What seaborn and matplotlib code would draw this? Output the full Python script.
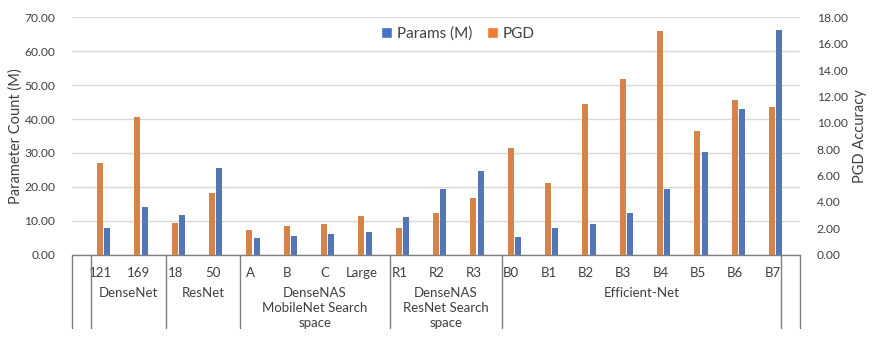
import numpy as np
import pandas as pd
import matplotlib
matplotlib.use('Agg')
import matplotlib.pyplot as plt
import matplotlib.transforms as mtransforms
from matplotlib.patches import Patch
import seaborn as sns

# ---- data ----
models = ['121', '169', '18', '50', 'A', 'B', 'C', 'Large', 'R1', 'R2', 'R3',
          'B0', 'B1', 'B2', 'B3', 'B4', 'B5', 'B6', 'B7']
params_m = [7.98, 14.15, 11.69, 25.56, 4.9, 5.6, 6.2, 6.6, 11.1, 19.5, 24.7,
            5.3, 7.8, 9.1, 12.2, 19.3, 30.4, 43.0, 66.3]
pgd_acc = [6.93, 10.42, 2.43, 4.68, 1.87, 2.15, 2.30, 2.96, 2.02, 3.19, 4.32,
           8.11, 5.46, 11.40, 13.32, 16.97, 9.36, 11.70, 11.18]
groups = ['DenseNet', 'ResNet', 'DenseNAS\nMobileNet Search\nspace',
          'DenseNAS\nResNet Search\nspace', 'Efficient-Net']
group_sizes = [2, 2, 4, 3, 8]

BLUE = '#4472C4'
ORANGE = '#ED7D31'
GRID = '#D9D9D9'
LINE = '#7F7F7F'
TEXT = '#404040'

sns.set_theme(style='white')
plt.rcParams['font.family'] = ['Lato', 'DejaVu Sans']

n = len(models)
df = pd.DataFrame({
    'model': models * 2,
    'metric': ['PGD'] * n + ['Params (M)'] * n,
    'params': [0.0] * n + params_m,
    'pgd': pgd_acc + [0.0] * n,
})
hue_order = ['PGD', 'Params (M)']
pal = {'PGD': ORANGE, 'Params (M)': BLUE}

fig = plt.figure(figsize=(8.72, 3.54), dpi=100)
ax = fig.add_axes([72 / 872, 1 - 254.7 / 354, 728 / 872, 237.4 / 354])
ax2 = ax.twinx()

sns.barplot(data=df, x='model', y='params', hue='metric', hue_order=hue_order,
            palette=pal, order=models, width=0.39, gap=0.18, linewidth=0,
            errorbar=None, legend=False, ax=ax)
sns.barplot(data=df, x='model', y='pgd', hue='metric', hue_order=hue_order,
            palette=pal, order=models, width=0.39, gap=0.18, linewidth=0,
            errorbar=None, legend=False, ax=ax2)

x0, x1 = -0.848, 18.654
ax.set_xlim(x0, x1)
ax.set_ylim(0, 70)
ax2.set_ylim(0, 18)
ax.set_yticks(np.arange(0, 71, 10))
ax2.set_yticks(np.arange(0, 19, 2))
ax.set_yticklabels([f'{v:.2f}' for v in np.arange(0, 71, 10)])
ax2.set_yticklabels([f'{v:.2f}' for v in np.arange(0, 19, 2)])
ax.yaxis.grid(True, color=GRID, linewidth=1.0)
ax.set_axisbelow(True)
for a in (ax, ax2):
    for s in a.spines.values():
        s.set_visible(False)
    a.set_xlabel('')
ax.tick_params(axis='y', length=0, pad=12, labelsize=8.7, labelcolor=TEXT)
ax2.tick_params(axis='y', length=0, pad=12, labelsize=8.7, labelcolor=TEXT)
ax.tick_params(axis='x', length=0, pad=9, labelsize=9.5, labelcolor=TEXT)
ax.set_xticks(range(n))
ax.set_xticklabels(models)
shift = mtransforms.ScaledTranslation(-3 / 100, 0, fig.dpi_scale_trans)
for lab in ax.get_xticklabels():
    lab.set_transform(lab.get_transform() + shift)

ax.set_ylabel('Parameter Count (M)', fontsize=10.5, color=TEXT, labelpad=1)
ax2.set_ylabel('PGD Accuracy', fontsize=10.5, color=TEXT, labelpad=4)

# category axis with group boxes
trans = ax.get_xaxis_transform()
ax.plot([x0, x1], [0, 0], color=LINE, lw=1.0, transform=trans, clip_on=False)
edges = np.concatenate([[-0.5], np.cumsum(group_sizes) - 0.5]) + 0.16
edges[-1] = 18.15
for xe in [x0, *edges, x1]:
    ax.plot([xe, xe], [0, -0.31], color=LINE, lw=1.0, transform=trans, clip_on=False)
for g, a, b in zip(groups, edges[:-1], edges[1:]):
    ax.text((a + b) / 2, -0.138, g, transform=trans, ha='center', va='top',
            fontsize=9.5, color=TEXT, linespacing=1.3)

handles = [Patch(facecolor=BLUE, label='Params (M)'), Patch(facecolor=ORANGE, label='PGD')]
fig.legend(handles=handles, loc='center', bbox_to_anchor=(458 / 872, 1 - 34 / 354),
           ncol=2, frameon=False, fontsize=11, handlelength=0.7, handleheight=0.7,
           handletextpad=0.3, columnspacing=1.0, labelcolor=TEXT)

fig.savefig('out.png', dpi=100)
